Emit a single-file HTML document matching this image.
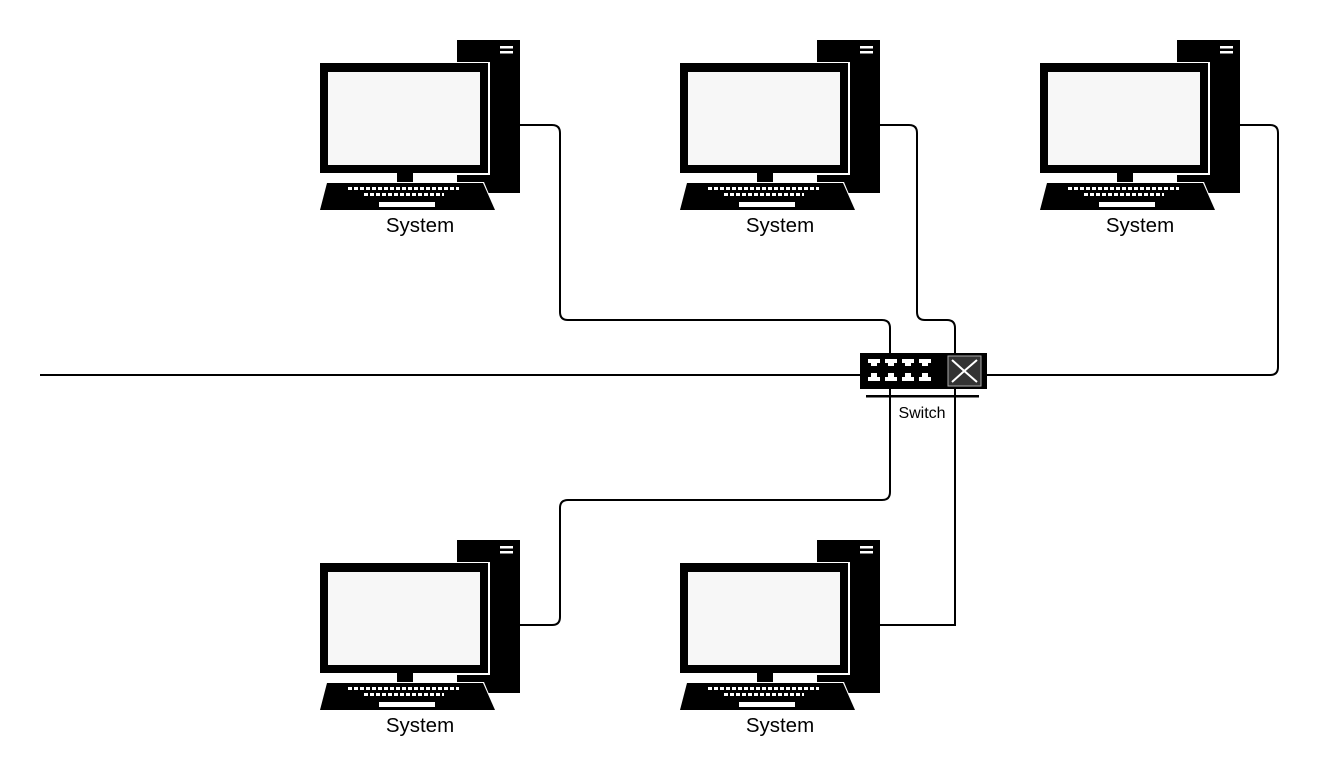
<!DOCTYPE html>
<html><head><meta charset="utf-8"><style>body{margin:0;background:#fff}svg{display:block}</style></head><body>
<svg width="1320" height="780" viewBox="0 0 1320 780" xmlns="http://www.w3.org/2000/svg">
<defs>
<g id="pc">
<rect x="457" y="40" width="63" height="153" fill="#000"/>
<rect x="500" y="46" width="13" height="2.5" fill="#fff"/>
<rect x="500" y="51" width="13" height="2.5" fill="#fff"/>
<rect x="319" y="62" width="171" height="113" fill="#fff"/>
<rect x="320" y="63" width="168" height="110" fill="#000"/>
<rect x="328" y="72" width="152" height="93" fill="#f7f7f7"/>
<rect x="397" y="173" width="16" height="10" fill="#000"/>
<polygon points="326,182 484,182 496,211 319,211" fill="#fff"/>
<polygon points="327,183 483,183 495,210 320,210" fill="#000"/>
<line x1="348" y1="188.5" x2="459" y2="188.5" stroke="#fff" stroke-width="3" stroke-dasharray="4,2"/>
<line x1="364" y1="194.5" x2="444" y2="194.5" stroke="#fff" stroke-width="3" stroke-dasharray="4,2"/>
<rect x="379" y="202" width="56" height="5" fill="#fff"/>
<text x="420" y="232" font-family="Liberation Sans, sans-serif" font-size="20.5" text-anchor="middle">System</text>
</g>
</defs>
<g fill="none" stroke="#000" stroke-width="2">
<path d="M520 125 H552 Q560 125 560 133 V312 Q560 320 568 320 H882 Q890 320 890 328 V360"/>
<path d="M880 125 H909 Q917 125 917 133 V312 Q917 320 925 320 H947 Q955 320 955 328 V625 H880"/>
<path d="M890 370 V492 Q890 500 882 500 H568 Q560 500 560 508 V617 Q560 625 552 625 H520"/>
<path d="M1240 125 H1270 Q1278 125 1278 133 V367 Q1278 375 1270 375 H985"/>
<path d="M40 375 H860"/>
</g>
<use href="#pc"/>
<use href="#pc" x="360"/>
<use href="#pc" x="720"/>
<use href="#pc" y="500"/>
<use href="#pc" x="360" y="500"/>
<rect x="860" y="353" width="127" height="36" fill="#000"/>
<g fill="#fff">
<rect x="868" y="359" width="12" height="4"/><rect x="871" y="362" width="6" height="4"/>
<rect x="885" y="359" width="12" height="4"/><rect x="888" y="362" width="6" height="4"/>
<rect x="902" y="359" width="12" height="4"/><rect x="905" y="362" width="6" height="4"/>
<rect x="919" y="359" width="12" height="4"/><rect x="922" y="362" width="6" height="4"/>
<rect x="868" y="377" width="12" height="4"/><rect x="871" y="373" width="6" height="4"/>
<rect x="885" y="377" width="12" height="4"/><rect x="888" y="373" width="6" height="4"/>
<rect x="902" y="377" width="12" height="4"/><rect x="905" y="373" width="6" height="4"/>
<rect x="919" y="377" width="12" height="4"/><rect x="922" y="373" width="6" height="4"/>
</g>
<rect x="948" y="356" width="33" height="30" fill="#333" stroke="#aaa" stroke-width="1"/>
<path d="M952 360 Q964 371 977 382 M977 360 Q964 371 952 382" stroke="#fff" stroke-width="2" fill="none"/>
<rect x="866" y="395" width="113" height="2.5" fill="#000"/>
<text x="922" y="418" font-family="Liberation Sans, sans-serif" font-size="16" text-anchor="middle">Switch</text>
</svg>
</body></html>
